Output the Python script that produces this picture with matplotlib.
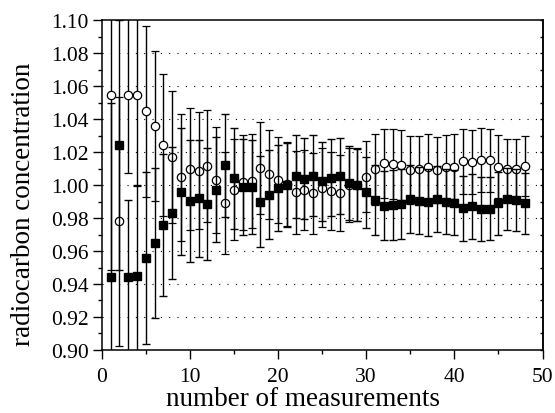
import matplotlib
matplotlib.use("Agg")
import matplotlib.pyplot as plt
from matplotlib.ticker import MultipleLocator, FormatStrFormatter, NullFormatter

plt.rcParams['font.family'] = ['Liberation Serif', 'DejaVu Serif']

n_meas = list(range(1, 49))

filled_vals = [0.944, 1.0242, 0.944, 0.945, 0.9556, 0.965, 0.9758, 0.9833, 0.996, 0.9905,
               0.9919, 0.9887, 0.9972, 1.0119, 1.004, 0.9989, 0.9986, 0.990, 0.994, 0.998,
               1.000, 1.0052, 1.0038, 1.0057, 1.0022, 1.0045, 1.0057, 1.0014, 1.000, 0.9956,
               0.991, 0.9875, 0.9879, 0.9885, 0.9915, 0.9905, 0.9895, 0.9913, 0.990, 0.9893,
               0.9859, 0.987, 0.9853, 0.9857, 0.989, 0.9915, 0.9909, 0.9888]

open_vals = [1.0545, 0.978, 1.0545, 1.0545, 1.0446, 1.0356, 1.0245, 1.0172, 1.0046, 1.0098,
             1.0087, 1.0117, 1.0032, 0.9893, 0.9972, 1.0016, 1.0026, 1.0101, 1.0066, 1.0031,
             1.0006, 0.9956, 0.997, 0.995, 0.9984, 0.9964, 0.995, 0.9998, 1.0002, 1.0051,
             1.0094, 1.0132, 1.0127, 1.0122, 1.0089, 1.0098, 1.0107, 1.0092, 1.0107, 1.0112,
             1.0145, 1.0139, 1.0152, 1.0149, 1.0112, 1.0094, 1.0095, 1.0117]

errors = [0.106, 0.0755, 0.047, 0.055, 0.052, 0.0455, 0.043, 0.040, 0.0385, 0.037,
          0.0355, 0.034, 0.032, 0.031, 0.0305, 0.029, 0.0285, 0.0278, 0.027, 0.026,
          0.0255, 0.0253, 0.0245, 0.0245, 0.024, 0.0235, 0.023, 0.0225, 0.022, 0.0215,
          0.0213, 0.021, 0.021, 0.021, 0.0205, 0.0202, 0.0205, 0.020, 0.0198, 0.0195,
          0.0197, 0.0195, 0.0195, 0.019, 0.019, 0.0187, 0.0185, 0.0183]

x_label = "number of measurements"
y_label = "radiocarbon concentration"

W, H = 555, 414
fig = plt.figure(figsize=(5.55, 4.14), dpi=100)
ax = fig.add_axes([101.7 / W, 1 - 351 / H, (542.5 - 101.7) / W, (351 - 21) / H])

for yv in [0.92, 0.94, 0.96, 0.98, 1.00, 1.02, 1.04, 1.06, 1.08]:
    ax.axhline(yv, color='black', lw=0.8, linestyle=(0, (1, 6.5)), zorder=0)

ax.errorbar(n_meas, open_vals, yerr=errors, fmt='o', mfc='white', mec='black',
            ms=6, mew=0.9, ecolor='black', elinewidth=1.0, capsize=2.6, capthick=1.0,
            zorder=3)
ax.errorbar(n_meas, filled_vals, yerr=errors, fmt='s', mfc='black', mec='black',
            ms=5.8, ecolor='black', elinewidth=1.0, capsize=2.6, capthick=1.0,
            zorder=4)

ax.set_xlim(0, 50)
ax.set_ylim(0.90, 1.10)
ax.xaxis.set_major_locator(MultipleLocator(10))
ax.xaxis.set_minor_locator(MultipleLocator(5))
ax.yaxis.set_major_locator(MultipleLocator(0.02))
ax.yaxis.set_minor_locator(MultipleLocator(0.01))
ax.yaxis.set_major_formatter(FormatStrFormatter('%.2f'))

ax.tick_params(which='both', direction='out', labelsize=15.5, width=1.0)
ax.tick_params(which='major', length=6.5, pad=3)
ax.tick_params(which='minor', length=3)
ax.tick_params(axis='x', which='major', pad=6)

sec = ax.secondary_yaxis('right')
sec.yaxis.set_major_locator(MultipleLocator(0.02))
sec.yaxis.set_minor_locator(MultipleLocator(0.01))
sec.yaxis.set_major_formatter(NullFormatter())
sec.tick_params(which='both', direction='in', length=2.5, width=1.0)
sec.spines['right'].set_linewidth(1.1)

for s in ax.spines.values():
    s.set_linewidth(1.1)

fig.text(303.5 / W, 1.5 / H, x_label, fontsize=19.5, ha='center', va='bottom')
fig.text(24 / W, 1 - 204 / H, y_label, fontsize=19.5, ha='center', va='center',
         rotation=90)

fig.savefig("out.png", dpi=100)
